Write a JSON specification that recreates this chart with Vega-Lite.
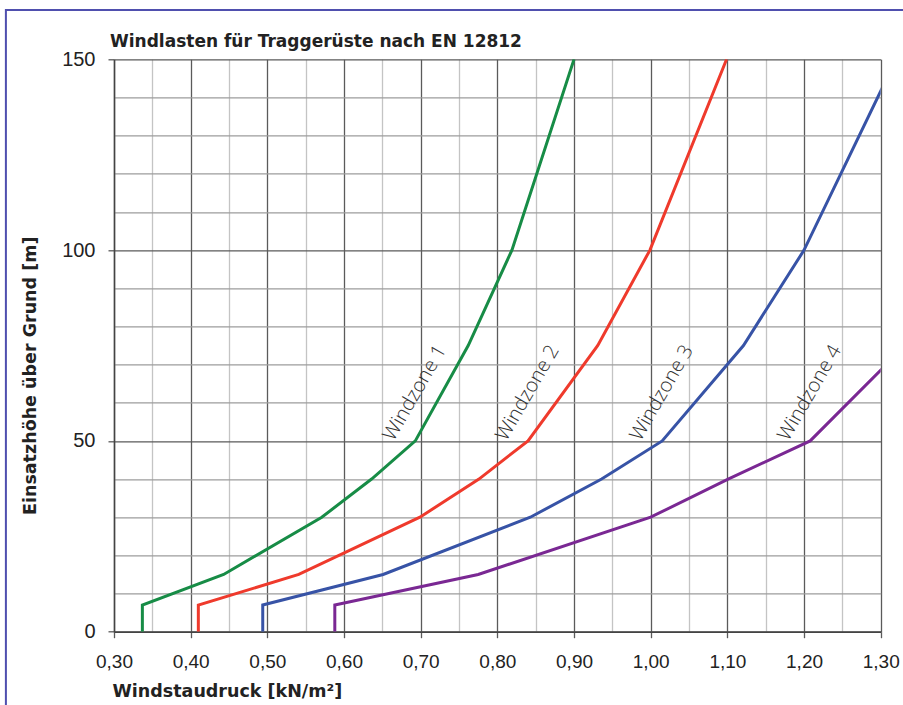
{
  "$schema": "https://vega.github.io/schema/vega-lite/v6.json",
  "width": 766.7,
  "height": 572.4,
  "autosize": {"type": "none"},
  "padding": {"left": 114, "top": 59.3, "right": 22.3, "bottom": 73.3},
  "background": "white",
  "config": {"view": {"stroke": null}},
  "title": {
    "text": "Windlasten für Traggerüste nach EN 12812",
    "anchor": "start",
    "frame": "group",
    "dx": -4,
    "offset": -55.4,
    "baseline": "alphabetic",
    "font": "DejaVu Sans",
    "fontSize": 17,
    "fontWeight": "bold",
    "color": "#222222"
  },
  "data": {
    "values": [
      {"zone": "Windzone 1", "q": 0.337, "h": 0},
      {"zone": "Windzone 1", "q": 0.337, "h": 7},
      {"zone": "Windzone 1", "q": 0.443, "h": 15},
      {"zone": "Windzone 1", "q": 0.571, "h": 30},
      {"zone": "Windzone 1", "q": 0.636, "h": 40},
      {"zone": "Windzone 1", "q": 0.693, "h": 50},
      {"zone": "Windzone 1", "q": 0.762, "h": 75},
      {"zone": "Windzone 1", "q": 0.819, "h": 100},
      {"zone": "Windzone 1", "q": 0.900, "h": 150},
      {"zone": "Windzone 2", "q": 0.410, "h": 0},
      {"zone": "Windzone 2", "q": 0.410, "h": 7},
      {"zone": "Windzone 2", "q": 0.541, "h": 15},
      {"zone": "Windzone 2", "q": 0.699, "h": 30},
      {"zone": "Windzone 2", "q": 0.776, "h": 40},
      {"zone": "Windzone 2", "q": 0.840, "h": 50},
      {"zone": "Windzone 2", "q": 0.931, "h": 75},
      {"zone": "Windzone 2", "q": 0.999, "h": 100},
      {"zone": "Windzone 2", "q": 1.099, "h": 150},
      {"zone": "Windzone 3", "q": 0.494, "h": 0},
      {"zone": "Windzone 3", "q": 0.494, "h": 7},
      {"zone": "Windzone 3", "q": 0.651, "h": 15},
      {"zone": "Windzone 3", "q": 0.843, "h": 30},
      {"zone": "Windzone 3", "q": 0.936, "h": 40},
      {"zone": "Windzone 3", "q": 1.015, "h": 50},
      {"zone": "Windzone 3", "q": 1.121, "h": 75},
      {"zone": "Windzone 3", "q": 1.200, "h": 100},
      {"zone": "Windzone 3", "q": 1.320, "h": 150},
      {"zone": "Windzone 4", "q": 0.588, "h": 0},
      {"zone": "Windzone 4", "q": 0.588, "h": 7},
      {"zone": "Windzone 4", "q": 0.775, "h": 15},
      {"zone": "Windzone 4", "q": 1.000, "h": 30},
      {"zone": "Windzone 4", "q": 1.101, "h": 40},
      {"zone": "Windzone 4", "q": 1.208, "h": 50},
      {"zone": "Windzone 4", "q": 1.332, "h": 75}
    ]
  },
  "resolve": {"scale": {"x": "independent", "y": "independent"}, "axis": {"x": "independent", "y": "independent"}},
  "layer": [
    {
      "data": {"values": [{}]},
      "mark": {"type": "rect", "filled": false, "stroke": "#4f4fae", "strokeWidth": 2},
      "encoding": {
        "x": {"datum": 0.159, "type": "quantitative", "scale": {"domain": [0.3, 1.3], "nice": false, "zero": false}, "axis": null},
        "x2": {"datum": 1.45},
        "y": {"datum": 162.9, "type": "quantitative", "scale": {"domain": [0, 150], "nice": false}, "axis": null},
        "y2": {"datum": -40}
      }
    },
    {
      "layer": [
        {
          "mark": {"type": "line", "strokeWidth": 3, "clip": true},
          "encoding": {
            "x": {
              "field": "q", "type": "quantitative",
              "scale": {"domain": [0.3, 1.3], "nice": false, "zero": false},
              "axis": {
                "title": "Windstaudruck [kN/m²]",
                "tickCount": 20,
                "grid": true,
                "gridColor": {"condition": {"test": "abs(datum.value*10-round(datum.value*10))<0.001", "value": "#5a5a5a"}, "value": "#c4c4c4"},
                "gridWidth": 1.3,
                "gridOpacity": 1,
                "ticks": true,
                "tickSize": 6,
                "tickWidth": 1.3,
                "tickColor": {"condition": {"test": "abs(datum.value*10-round(datum.value*10))<0.001", "value": "#5a5a5a"}, "value": "transparent"},
                "domainColor": "#444444",
                "domainWidth": 1.5,
                "labelExpr": "abs(datum.value*10-round(datum.value*10))<0.001 ? replace(format(datum.value,'.2f'),'.',',') : ''",
                "labelFont": "Liberation Sans",
                "labelFontSize": 19,
                "labelColor": "#222222",
                "labelPadding": 15,
                "labelFlush": false,
                "labelOverlap": false,
                "titleFont": "DejaVu Sans",
                "titleFontSize": 17.5,
                "titleFontWeight": "bold",
                "titleColor": "#222222",
                "titleAnchor": "start",
                "titleAlign": "left",
                "titleX": -2,
                "titleY": 65,
                "titleBaseline": "alphabetic"
              }
            },
            "y": {
              "field": "h", "type": "quantitative",
              "scale": {"domain": [0, 150], "nice": false},
              "axis": {
                "title": "Einsatzhöhe über Grund [m]",
                "tickCount": 15,
                "grid": true,
                "gridColor": {"condition": {"test": "datum.value % 50 === 0", "value": "#5a5a5a"}, "value": "#9c9c9c"},
                "gridWidth": 1.3,
                "gridOpacity": 1,
                "tickSize": 6,
                "tickWidth": 1.3,
                "tickColor": {"condition": {"test": "datum.value % 50 === 0", "value": "#5a5a5a"}, "value": "transparent"},
                "domainColor": "#444444",
                "domainWidth": 1.5,
                "labelExpr": "datum.value % 50 === 0 ? datum.label : ''",
                "labelFont": "Liberation Sans",
                "labelFontSize": 20,
                "labelColor": "#222222",
                "labelPadding": 13,
                "labelFlush": false,
                "labelOverlap": false,
                "titleFont": "DejaVu Sans",
                "titleFontSize": 17.5,
                "titleFontWeight": "bold",
                "titleColor": "#222222",
                "titleAngle": -90,
                "titleAlign": "center",
                "titleBaseline": "middle",
                "titleX": -84,
                "titleY": 316
              }
            },
            "color": {
              "field": "zone", "type": "nominal",
              "scale": {"domain": ["Windzone 1", "Windzone 2", "Windzone 3", "Windzone 4"], "range": ["#178c46", "#ef3a2c", "#3753a6", "#7a2893"]},
              "legend": null
            },
            "order": {"field": "h", "type": "quantitative"}
          }
        },
        {
          "transform": [{"filter": "datum.h === 50"}],
          "mark": {"type": "text", "angle": -60, "align": "left", "baseline": "alphabetic", "dx": -11.9, "dy": -18.3, "font": "Open Sans", "fontWeight": 300, "fontSize": 20, "color": "#333333"},
          "encoding": {
            "x": {"field": "q", "type": "quantitative"},
            "y": {"field": "h", "type": "quantitative"},
            "text": {"field": "zone"}
          }
        }
      ]
    }
  ]
}
